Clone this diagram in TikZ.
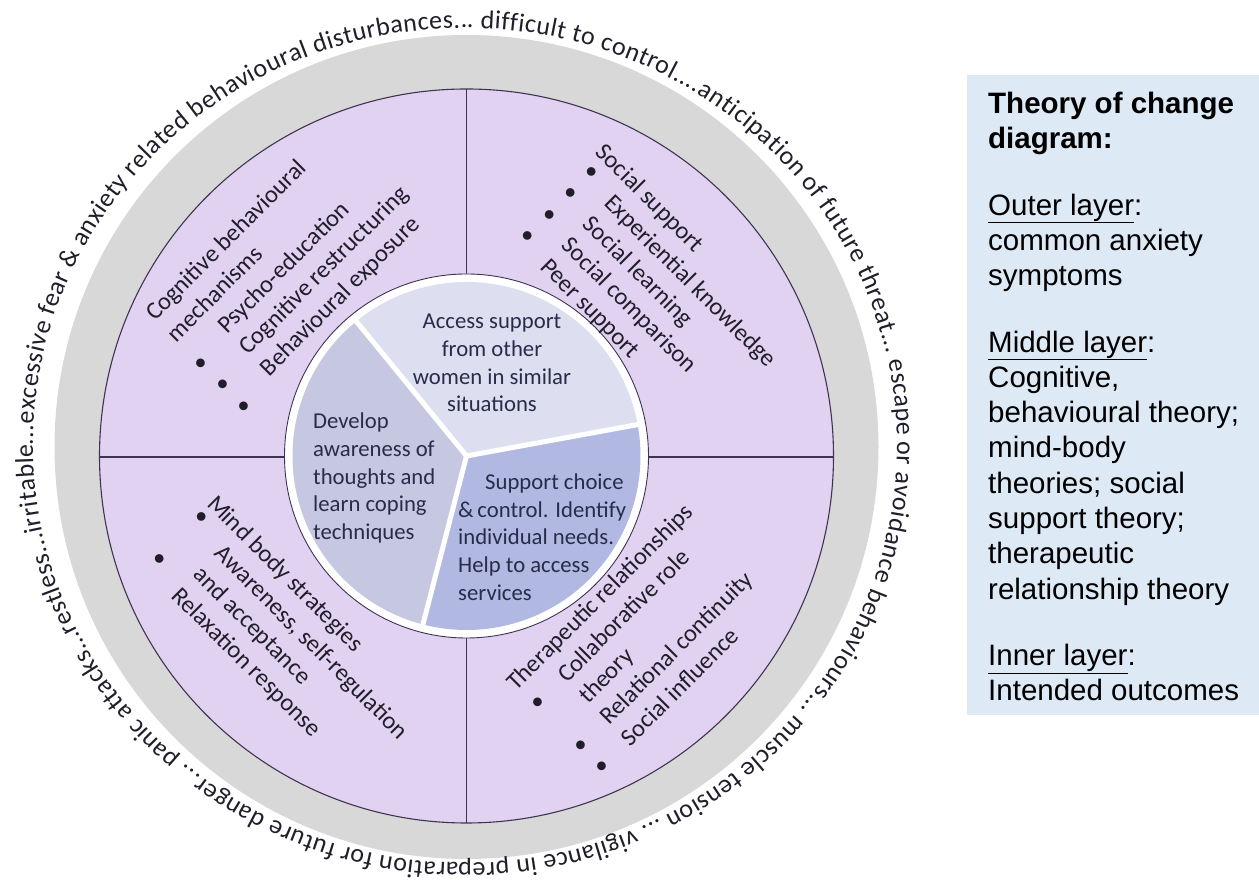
\documentclass[tikz,border=0pt]{standalone}
\usepackage{fontspec}
\setmainfont{Liberation Sans}
\newfontfamily\carlito{Carlito}
\usetikzlibrary{decorations.text}
\definecolor{ringgray}{RGB}{216,216,216}
\definecolor{lilac}{RGB}{226,210,241}
\definecolor{pieA}{RGB}{221,223,241}
\definecolor{pieB}{RGB}{198,200,225}
\definecolor{pieC}{RGB}{177,185,227}
\definecolor{boxblue}{RGB}{222,233,246}
\definecolor{linec}{RGB}{62,52,82}
\definecolor{navy}{RGB}{40,44,74}
\definecolor{ink}{RGB}{32,30,42}
\begin{document}
\begin{tikzpicture}[x=1pt,y=1pt,
  ct/.style={font=\carlito\fontsize{22.7}{27.7}\selectfont, text=navy, inner sep=0},
  qt/.style={font=\carlito\fontsize{24.5}{30}\selectfont, text=ink, inner sep=0, anchor=base west},
  divider/.style={draw=linec, line width=1.1pt},
  piesep/.style={draw=white, line width=5pt}]
\useasboundingbox (0,0) rectangle (1259,886);
% centres
\coordinate (G) at (466.5,439);
\coordinate (C) at (466.5,430);
% grey ring
\fill[ringgray] (G) circle[radius=412];
% purple disc
\fill[lilac] (C) circle[radius=367];
% dividers
\coordinate (vt) at (466.5,797);
\coordinate (vb) at (466.5,63);
\coordinate (hl) at (99.5,429);
\coordinate (hr) at (833.5,429);
\draw[divider] (vt) -- (vb);
\draw[divider] (hl) -- (hr);
\draw[divider] (C) circle[radius=367];
% white disc
\filldraw[fill=white, draw=linec, line width=0.9pt] (C) circle[radius=182];
% pie sectors
\fill[pieA] (C) -- ++(10.4:174) arc[start angle=10.4, end angle=129.3, radius=174] -- cycle;
\fill[pieB] (C) -- ++(129.3:174) arc[start angle=129.3, end angle=255.5, radius=174] -- cycle;
\fill[pieC] (C) -- ++(255.5:174) arc[start angle=255.5, end angle=370.4, radius=174] -- cycle;
\draw[piesep] (C) -- ++(10.4:176);
\draw[piesep] (C) -- ++(129.3:176);
\draw[piesep] (C) -- ++(255.5:176);
% inner texts
\node[ct, align=center] (ia) at (492,523) {Access support\\from other\\women in similar\\situations};
\node[ct, align=left, anchor=west] (ib) at (313,408) {Develop\\awareness of\\thoughts and\\learn coping\\techniques};
\node[ct, align=left, anchor=west] (ic) at (458,349) {\hspace*{27pt}Support choice\\\&\,control. Identify\\individual needs.\\Help to access\\services};
% top-left quadrant
\begin{scope}[shift={(155,564)}, rotate=45, transform shape]
\node[qt] (tl1) at (0,0) {Cognitive behavioural};
\node[qt] (tl2) at (0,-30) {mechanisms};
\node[qt] (tl3b) at (-3,-69) {\textbullet};
\node[qt] (tl3) at (42,-60) {Psycho-education};
\node[qt] (tl4b) at (-3,-99) {\textbullet};
\node[qt] (tl4) at (42,-90) {Cognitive restructuring};
\node[qt] (tl5b) at (-3,-129) {\textbullet};
\node[qt] (tl5) at (42,-120) {Behavioural exposure};
\end{scope}
% top-right quadrant
\begin{scope}[shift={(594.5,732.5)}, rotate=-45, transform shape]
\node[qt] (tr1) at (0,0) {Social support};
\node[qt] (tr2b) at (5,-22) {\textbullet};
\node[qt] (tr2) at (42,-30) {Experiential knowledge};
\node[qt] (tr3b) at (5,-52) {\textbullet};
\node[qt] (tr3) at (42,-60) {Social learning};
\node[qt] (tr4b) at (5,-82) {\textbullet};
\node[qt] (tr4) at (42,-90) {Social comparison};
\node[qt] (tr5b) at (5,-112) {\textbullet};
\node[qt] (tr5) at (42,-120) {Peer support};
\end{scope}
% bottom-left quadrant
\begin{scope}[shift={(206,381)}, rotate=-45, transform shape]
\node[qt] (bl1) at (0,0) {Mind body strategies};
\node[qt] (bl2b) at (-1,-18) {\textbullet};
\node[qt] (bl2) at (40,-30) {Awareness, self-regulation};
\node[qt] (bl3) at (40,-60) {and acceptance};
\node[qt] (bl4b) at (-1,-78) {\textbullet};
\node[qt] (bl4) at (40,-90) {Relaxation response};
\end{scope}
% bottom-right quadrant
\begin{scope}[shift={(516,194)}, rotate=45, transform shape]
\node[qt] (br1) at (0,0) {Therapeutic relationships};
\node[qt] (br2b) at (2,-30) {\textbullet};
\node[qt] (br2) at (42,-30) {Collaborative role};
\node[qt] (br3) at (42,-60) {theory};
\node[qt] (br4b) at (2,-90) {\textbullet};
\node[qt] (br4) at (42,-90) {Relational continuity};
\node[qt] (br5b) at (2,-120) {\textbullet};
\node[qt] (br5) at (42,-120) {Social influence};
\end{scope}
% outer ring text
\path[decorate, decoration={text along path, text align={fit to path},
  text={|\carlito\fontsize{26}{30}\selectfont\color{ink}|...excessive fear {\&} anxiety related behavioural disturbances... difficult to control....anticipation of future threat... escape or avoidance behaviours... muscle tension ... vigilance in preparation for future danger... panic attacks...restless...irritable}}]
  (33,440.5) arc[start angle=180, end angle=-180, x radius=432, y radius=417.5];
% legend box
\fill[boxblue] (967,171) rectangle (1259,811);
\node[anchor=north west, inner sep=0, align=left, font=\fontsize{29.5}{35.3}\selectfont, text=black] (legend) at (988,794)
{\textbf{Theory of change}\\\textbf{diagram:}\\[31pt]
\underline{Outer layer}:\\common anxiety\\symptoms\\[31pt]
\underline{Middle layer}:\\Cognitive,\\behavioural theory;\\mind-body\\theories; social\\support theory;\\therapeutic\\relationship theory\\[31pt]
\underline{Inner layer}:\\Intended outcomes};
\end{tikzpicture}
\end{document}
